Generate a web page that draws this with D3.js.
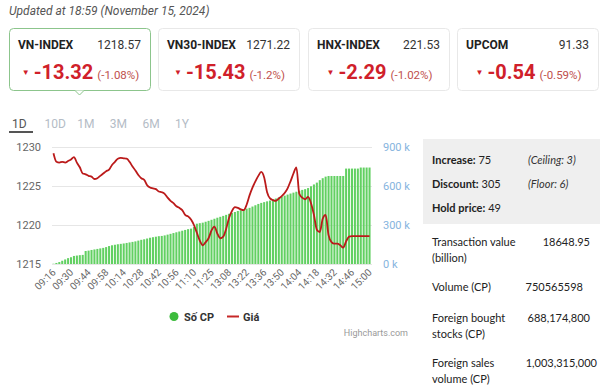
<!DOCTYPE html>
<html>
<head>
<meta charset="utf-8">
<script src="https://cdn.jsdelivr.net/npm/d3@7"></script>
<style>
  html, body { margin: 0; padding: 0; background: #fff; }
  svg { display: block; font-family: Roboto, 'Noto Sans', sans-serif; }
</style>
</head>
<body>
<svg id="chart" width="600" height="386"></svg>
<script>
// index cards
const indexNames = ['VN-INDEX', 'VN30-INDEX', 'HNX-INDEX', 'UPCOM'];
const indexValues = ['1218.57', '1271.22', '221.53', '91.33'];
const indexChanges = ['-13.32', '-15.43', '-2.29', '-0.54'];
const indexPercents = ['(-1.08%)', '(-1.2%)', '(-1.02%)', '(-0.59%)'];

const tabs = ['1D', '10D', '1M', '3M', '6M', '1Y'];

// intraday series, one value per bar
const timeLabels = ['09:16', '09:30', '09:44', '09:58', '10:14', '10:28', '10:42', '10:56', '11:10',
  '11:25', '13:08', '13:22', '13:36', '13:50', '14:04', '14:18', '14:32', '14:46', '15:00'];
const labelStep = 6;

// Số CP, thousands
const volumes = [
  2, 8, 15, 25, 35, 45, 52, 62, 65, 68,
  70, 100, 103, 108, 112, 116, 120, 124, 130, 138,
  144, 148, 152, 155, 158, 162, 166, 170, 174, 180,
  186, 190, 196, 202, 206, 210, 214, 216, 220, 226,
  232, 238, 244, 250, 256, 262, 268, 272, 285, 310,
  314, 318, 325, 332, 340, 348, 356, 363, 370, 378,
  386, 392, 400, 408, 414, 420, 426, 432, 442, 452,
  462, 470, 476, 482, 488, 496, 504, 512, 518, 526,
  534, 542, 549, 556, 563, 570, 576, 584, 598, 612,
  626, 645, 660, 672, 677, 677, 677, 677, 677, 677,
  734, 734, 734, 734, 734, 742, 742, 742, 742,
];

// Giá
const prices = [
  1229.2, 1228.1, 1228.0, 1228.1, 1228.0, 1228.2, 1228.4, 1228.7, 1228.0, 1227.4,
  1226.6, 1226.5, 1226.3, 1226.2, 1225.9, 1226.0, 1226.3, 1226.6, 1226.9, 1227.1,
  1227.7, 1228.1, 1228.5, 1228.6, 1228.55, 1228.5, 1228.1, 1227.5, 1227.0, 1226.4,
  1226.0, 1225.8, 1225.1, 1224.8, 1224.7, 1224.6, 1224.3, 1224.2, 1224.0, 1223.5,
  1223.1, 1222.8, 1222.4, 1222.2, 1221.9, 1221.3, 1221.1, 1220.7, 1220.0, 1219.0,
  1218.0, 1217.4, 1217.8, 1218.3, 1219.3, 1219.8, 1218.9, 1218.3, 1218.5, 1219.5,
  1220.9, 1221.8, 1222.3, 1222.2, 1222.0, 1221.9, 1222.6, 1223.8, 1224.8, 1225.6,
  1226.3, 1226.8, 1226.1, 1224.2, 1223.4, 1223.2, 1223.1, 1223.4, 1223.7, 1224.1,
  1224.7, 1225.6, 1226.6, 1227.4, 1224.0, 1223.5, 1223.3, 1223.6, 1222.8, 1221.3,
  1219.4, 1219.1, 1220.8, 1221.3, 1218.7, 1217.8, 1217.6, 1217.6, 1217.4, 1217.1,
  1217.9, 1218.5, 1218.57, 1218.57, 1218.57, 1218.57, 1218.57, 1218.57, 1218.57,
];

const priceTicks = [1215, 1220, 1225, 1230];
const volumeTicks = [0, 300, 600, 900];

// market breadth + stats
const breadthLabels = ['Increase:', 'Discount:', 'Hold price:'];
const breadthValues = ['75', '305', '49'];
const breadthNotes = ['(Ceiling: 3)', '(Floor: 6)', ''];
const statLabels = [['Transaction value', '(billion)'], ['Volume (CP)'], ['Foreign bought', 'stocks (CP)'], ['Foreign sales', 'volume (CP)']];
const statValues = ['18648.95', '750565598', '688,174,800', '1,003,315,000'];

const red = '#d0202a';
const svg = d3.select('#chart');

svg.append('text')
  .attr('x', 9).attr('y', 15)
  .attr('font-size', 12)
  .attr('font-style', 'italic')
  .attr('fill', '#555')
  .text('Updated at 18:59 (November 15, 2024)');

// Cards
const cardX = [9, 158, 308, 457];
const cardW = 141;
const cards = svg.selectAll('g.card')
  .data(indexNames)
  .enter().append('g')
  .attr('class', 'card')
  .attr('transform', (d, i) => `translate(${cardX[i]},28)`);

cards.append('rect')
  .attr('x', 0.5).attr('y', 0.5)
  .attr('width', cardW).attr('height', 62)
  .attr('rx', 4)
  .attr('fill', '#fff')
  .attr('stroke', (d, i) => (i === 0 ? '#8cc58c' : '#e8e8e8'));

// pointer under the active card
svg.append('path')
  .attr('d', `M${cardX[0] + 66},90.5 L${cardX[0] + 70.5},95 L${cardX[0] + 75},90.5`)
  .attr('fill', '#fff')
  .attr('stroke', '#8cc58c');

cards.append('text')
  .attr('x', 9).attr('y', 21)
  .attr('font-size', 12)
  .attr('font-weight', 'bold')
  .attr('fill', '#222')
  .text((d) => d);

cards.append('text')
  .attr('x', 132).attr('y', 21)
  .attr('text-anchor', 'end')
  .attr('font-size', 12)
  .attr('fill', '#333')
  .text((d, i) => indexValues[i]);

const change = cards.append('text')
  .attr('x', cardW / 2 + 1).attr('y', 51)
  .attr('text-anchor', 'middle');
change.append('tspan')
  .attr('font-size', 8)
  .attr('fill', red)
  .attr('dy', -4)
  .text('▼');
change.append('tspan')
  .attr('font-size', 20)
  .attr('font-weight', 'bold')
  .attr('fill', red)
  .attr('dx', 4)
  .attr('dy', 4)
  .text((d, i) => indexChanges[i]);
change.append('tspan')
  .attr('font-size', 11.5)
  .attr('fill', '#c0504d')
  .attr('dx', 4)
  .text((d, i) => indexPercents[i]);

// Tabs
svg.selectAll('text.tab')
  .data(tabs)
  .enter().append('text')
  .attr('class', 'tab')
  .attr('x', (d, i) => 12 + i * 32.6)
  .attr('y', 128)
  .attr('font-size', 12)
  .attr('fill', (d, i) => (i === 0 ? '#555' : '#b4bcc6'))
  .text((d) => d);
svg.append('rect')
  .attr('x', 9).attr('y', 131)
  .attr('width', 24).attr('height', 2)
  .attr('fill', '#555');

// Chart
const plot = { left: 52, right: 371, top: 147, bottom: 264 };
const x = d3.scaleBand()
  .domain(d3.range(volumes.length))
  .range([plot.left, plot.right])
  .paddingInner(0.3)
  .paddingOuter(0.15);
const yPrice = d3.scaleLinear().domain([1215, 1230]).range([plot.bottom, plot.top]);
const yVol = d3.scaleLinear().domain([0, 900]).range([plot.bottom, plot.top]);

const grid = svg.append('g')
  .attr('transform', `translate(${plot.left},0)`)
  .call(d3.axisLeft(yPrice).tickValues(priceTicks).tickSize(-(plot.right - plot.left + 1)).tickFormat(''));
grid.select('.domain').remove();
grid.selectAll('line').attr('stroke', '#e6e6e6');

const yAxisL = svg.append('g')
  .attr('transform', 'translate(41,0)')
  .call(d3.axisLeft(yPrice).tickValues(priceTicks).tickSize(0).tickPadding(0)
    .tickFormat(d3.format('d')));
yAxisL.select('.domain').remove();
yAxisL.selectAll('text')
  .attr('font-size', 11)
  .attr('font-family', 'Roboto, sans-serif')
  .attr('fill', '#666');

const yAxisR = svg.append('g')
  .attr('transform', 'translate(383,0)')
  .call(d3.axisRight(yVol).tickValues(volumeTicks).tickSize(0).tickPadding(0)
    .tickFormat((d) => `${d} k`));
yAxisR.select('.domain').remove();
yAxisR.selectAll('text')
  .attr('font-size', 11)
  .attr('font-family', 'Roboto, sans-serif')
  .attr('fill', '#86b4de');

svg.append('g')
  .selectAll('rect')
  .data(volumes)
  .enter().append('rect')
  .attr('x', (d, i) => x(i))
  .attr('width', x.bandwidth())
  .attr('y', (d) => yVol(d))
  .attr('height', (d) => plot.bottom - yVol(d))
  .attr('fill', '#62d062');

const line = d3.line()
  .x((d, i) => x(i) + x.bandwidth() / 2)
  .y((d) => yPrice(d))
  .curve(d3.curveMonotoneX);

svg.append('path')
  .datum(prices)
  .attr('d', line)
  .attr('fill', 'none')
  .attr('stroke', '#bb1a1a')
  .attr('stroke-width', 1.8)
  .attr('stroke-linejoin', 'round');

const xAxis = svg.append('g')
  .attr('transform', `translate(0,${plot.bottom})`)
  .call(d3.axisBottom(x)
    .tickValues(d3.range(0, volumes.length, labelStep))
    .tickSize(0)
    .tickFormat((d) => timeLabels[d / labelStep]));
xAxis.select('.domain').remove();
xAxis.selectAll('text')
  .attr('font-size', 10)
  .attr('font-family', 'Roboto, sans-serif')
  .attr('fill', '#666')
  .attr('text-anchor', 'end')
  .attr('dy', null)
  .attr('y', 0)
  .attr('transform', 'translate(3,9) rotate(-45)');

// Legend
const legend = svg.append('g').attr('font-size', 11).attr('font-weight', 'bold').attr('fill', '#333');
legend.append('circle').attr('cx', 174).attr('cy', 316.5).attr('r', 4.5).attr('fill', '#3dbb3d');
legend.append('text').attr('x', 184).attr('y', 320.5).text('Số CP');
legend.append('line')
  .attr('x1', 227).attr('x2', 239)
  .attr('y1', 316.5).attr('y2', 316.5)
  .attr('stroke', '#c62828').attr('stroke-width', 2);
legend.append('text').attr('x', 243).attr('y', 320.5).text('Giá');

svg.append('text')
  .attr('x', 408).attr('y', 336)
  .attr('text-anchor', 'end')
  .attr('font-size', 9)
  .attr('fill', '#999')
  .text('Highcharts.com');

// Side panel
const panel = svg.append('g').attr('font-family', 'Lato, Roboto, sans-serif').attr('font-size', 11).attr('fill', '#222');
panel.append('rect')
  .attr('x', 423).attr('y', 139)
  .attr('width', 177).attr('height', 85)
  .attr('fill', '#efefef');

breadthLabels.forEach((label, i) => {
  const t = panel.append('text').attr('x', 432).attr('y', 164 + i * 24);
  t.append('tspan').attr('font-weight', 'bold').text(label);
  t.append('tspan').text(` ${breadthValues[i]}`);
  panel.append('text')
    .attr('x', 528).attr('y', 164 + i * 24)
    .attr('font-style', 'italic')
    .attr('fill', '#333')
    .text(breadthNotes[i]);
});

const statY = [246, 291, 322, 367];
const statRight = [590, 583, 590, 597];
statLabels.forEach((lines, i) => {
  lines.forEach((l, j) => {
    panel.append('text').attr('x', 432).attr('y', statY[i] + j * 16).text(l);
  });
  panel.append('text')
    .attr('x', statRight[i]).attr('y', statY[i])
    .attr('text-anchor', 'end')
    .text(statValues[i]);
});
</script>
</body>
</html>
